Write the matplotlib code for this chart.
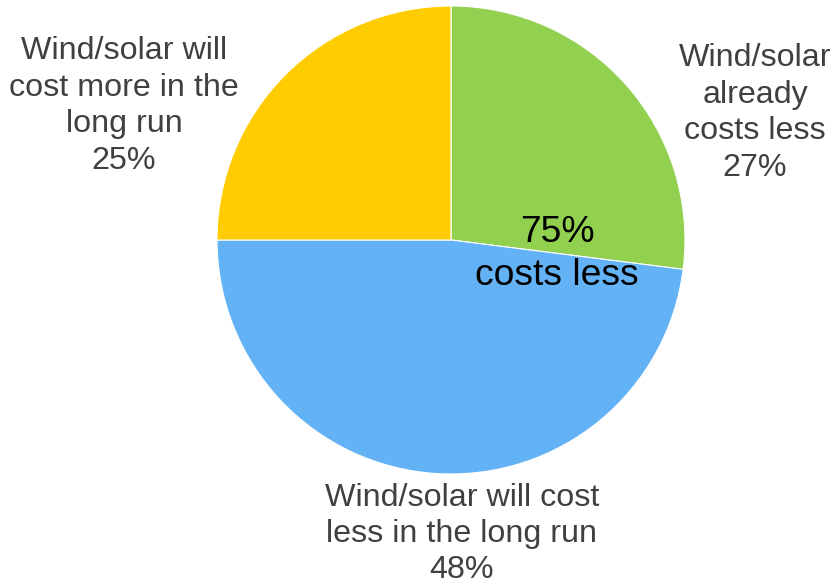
import matplotlib.pyplot as plt

plt.rcParams['font.family'] = ['Liberation Sans', 'DejaVu Sans']

# slice data, clockwise from 12 o'clock
labels = ['Wind/solar\nalready\ncosts less', 'Wind/solar will cost\nless in the long run',
          'Wind/solar will\ncost more in the\nlong run']
shares = [27, 48, 25]
colors = ['#92D050', '#63B2F5', '#FFCC00']
center_text = '75%\ncosts less'

fig = plt.figure(figsize=(8.35, 5.85), dpi=100)
ax = fig.add_axes([0, 0, 1, 1])

ax.pie(shares, colors=colors, startangle=90, counterclock=False,
       center=(451, 345), radius=234, frame=True,
       wedgeprops=dict(edgecolor='white', linewidth=0.8))
ax.set_xlim(0, 835)
ax.set_ylim(0, 585)
ax.set_aspect('equal')
ax.axis('off')

# label positions (pixel coords, y up)
label_pos = [(755, 472), (462, 51), (124, 479)]
for (x, y), lab, v in zip(label_pos, labels, shares):
    ax.text(x, y, f'{lab}\n{v}%', ha='center', va='center', fontsize=23.2,
            color='#404040', linespacing=1.28)

ax.text(557, 331, center_text, ha='center', va='center', fontsize=26.8,
        color='black', linespacing=1.27)

fig.savefig('out.png', dpi=100)
